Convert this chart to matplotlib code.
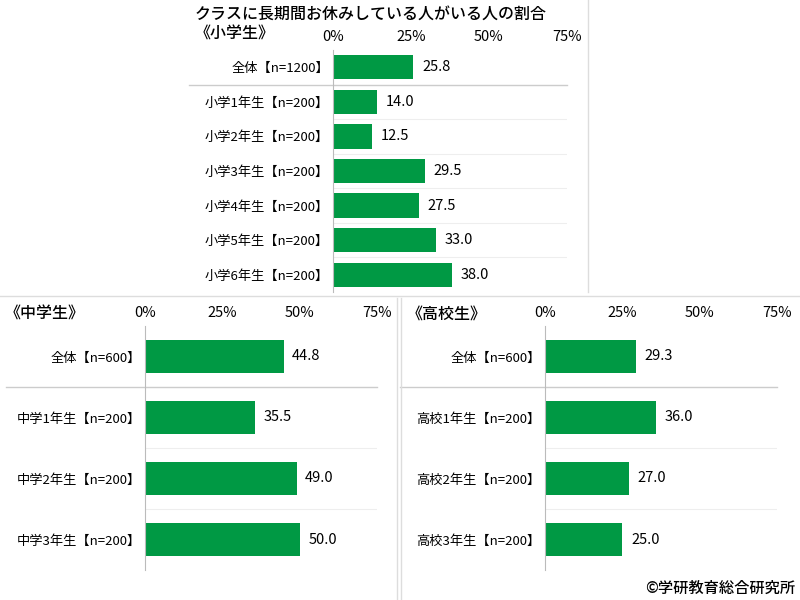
import matplotlib
matplotlib.use("Agg")
import matplotlib.pyplot as plt
from matplotlib.lines import Line2D

plt.rcParams['font.family'] = ['Noto Sans CJK JP', 'DejaVu Sans']

elem_labels = ["全体【n=1200】", "小学1年生【n=200】", "小学2年生【n=200】", "小学3年生【n=200】",
               "小学4年生【n=200】", "小学5年生【n=200】", "小学6年生【n=200】"]
elem_values = [25.8, 14.0, 12.5, 29.5, 27.5, 33.0, 38.0]
mid_labels = ["全体【n=600】", "中学1年生【n=200】", "中学2年生【n=200】", "中学3年生【n=200】"]
mid_values = [44.8, 35.5, 49.0, 50.0]
high_labels = ["全体【n=600】", "高校1年生【n=200】", "高校2年生【n=200】", "高校3年生【n=200】"]
high_values = [29.3, 36.0, 27.0, 25.0]
ticks = [0, 25, 50, 75]
tick_labels = ["0%", "25%", "50%", "75%"]

GREEN = "#009944"
W, H = 800, 600
fig = plt.figure(figsize=(8, 6), dpi=100)

def ax_at(x0, y0, x1, y1):
    return fig.add_axes([x0 / W, 1 - y1 / H, (x1 - x0) / W, (y1 - y0) / H])

def panel(ax, labels, values, bh, fs, sep_left):
    n = len(labels)
    ys = list(range(n))
    ax.barh(ys, values, height=bh, color=GREEN)
    ax.set_xlim(0, 75)
    ax.set_ylim(n - 0.5, -0.5)
    ax.set_yticks(ys)
    ax.set_yticklabels(labels, fontsize=fs)
    ax.xaxis.tick_top()
    ax.set_xticks(ticks)
    ax.set_xticklabels(tick_labels, fontsize=10.5)
    ax.tick_params(length=0, pad=4)
    ax.tick_params(axis='y', pad=3)
    for s in ["top", "right", "bottom"]:
        ax.spines[s].set_visible(False)
    ax.spines["left"].set_color("#bbbbbb")
    for v, y in zip(values, ys):
        ax.text(v + 2.8, y, f"{v:.1f}", va="center", ha="left", fontsize=10.5)
    for y in ys[1:]:
        ax.axhline(y - 0.5, color="#eeeeee", lw=0.8)
    ax.plot([sep_left, 75], [0.5, 0.5], color="#cccccc", lw=1, clip_on=False)

ax1 = ax_at(333, 50, 567, 292)
panel(ax1, elem_labels, elem_values, 0.7, 9.5, -46)
ax2 = ax_at(145, 326, 377, 570)
panel(ax2, mid_labels, mid_values, 0.55, 9.5, -45)
ax3 = ax_at(545, 326, 777, 570)
panel(ax3, high_labels, high_values, 0.55, 9.5, -47)

fig.text(195 / W, 1 - 14 / H, "クラスに長期間お休みしている人がいる人の割合", fontsize=11.5, va="center", fontweight="medium")
fig.text(195 / W, 1 - 34 / H, "《小学生》", fontsize=11.5, va="center", fontweight="medium")
fig.text(5 / W, 1 - 314 / H, "《中学生》", fontsize=11.5, va="center", fontweight="medium")
fig.text(407 / W, 1 - 314 / H, "《高校生》", fontsize=11.5, va="center", fontweight="medium")
fig.text(795 / W, 1 - 588 / H, "©学研教育総合研究所", fontsize=11, va="center", ha="right", fontweight="medium")

def fl(x0, y0, x1, y1):
    fig.add_artist(Line2D([x0 / W, x1 / W], [1 - y0 / H, 1 - y1 / H], color="#dddddd", lw=1))

fl(588, 0, 588, 292)
fl(0, 296, 800, 296)
fl(397, 298, 397, 600)
fl(401, 298, 401, 600)

fig.savefig("out.png", dpi=100, facecolor="white")
